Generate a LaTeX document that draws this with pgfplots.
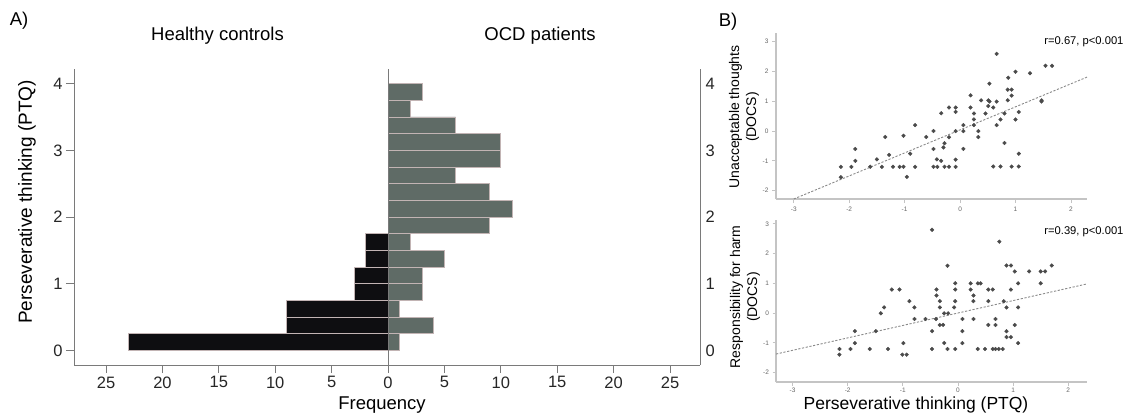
\documentclass[border=0pt]{standalone}
\usepackage{pgfplots}
\pgfplotsset{compat=1.18}
\usepackage{fontspec}
\setmainfont{Liberation Sans}
\definecolor{ocd}{HTML}{5F6B66}
\definecolor{hc}{HTML}{0E0E11}
\definecolor{edge}{HTML}{C2B4B4}
\definecolor{axgray}{HTML}{7A7A7A}
\definecolor{scax}{HTML}{C4C4C4}
\definecolor{dot}{HTML}{4A4A4A}
\definecolor{trend}{HTML}{8A8A8A}

\begin{document}
\begin{tikzpicture}[x=1pt,y=1pt]
\useasboundingbox (0,0) rectangle (1131,413);

% ---------------- Panel A ----------------
\begin{axis}[
  at={(74pt,48pt)}, anchor=south west, scale only axis,
  width=626pt, height=296pt,
  xmin=-27.84, xmax=27.66, ymin=-0.22, ymax=4.22,
  axis x line*=bottom, axis y line*=left,
  axis line style={axgray, line width=0.9pt},
  xtick={-25,-20,...,25},
  xticklabels={25,20,15,10,5,0,5,10,15,20,25},
  ytick={0,1,2,3,4},
  tick align=outside, major tick length=8pt,
  tick style={axgray, line width=0.8pt},
  ticklabel style={font=\fontsize{16.5}{18}\selectfont, text=black!85},
  /pgf/number format/assume math mode=true,
  xbar, bar shift=0pt, bar width=0.25,
  clip=false,
]
\addplot[fill=hc, draw=edge, line width=0.7pt] coordinates {
  (-23,0.125) (-9,0.375) (-9,0.625) (-3,0.875) (-3,1.125) (-2,1.375) (-2,1.625)};
\addplot[fill=ocd, draw=edge, line width=0.7pt] coordinates {
  (1,0.125) (4,0.375) (1,0.625) (3,0.875) (3,1.125) (5,1.375) (2,1.625)
  (9,1.875) (11,2.125) (9,2.375) (6,2.625) (10,2.875) (10,3.125) (6,3.375)
  (2,3.625) (3,3.875)};
\draw[axgray, line width=0.9pt] (axis cs:0,-0.22) -- (axis cs:0,4.22);
\end{axis}

% right-hand y axis of panel A
\begin{axis}[
  at={(74pt,48pt)}, anchor=south west, scale only axis,
  width=626pt, height=296pt,
  xmin=-27.84, xmax=27.66, ymin=-0.22, ymax=4.22,
  axis x line=none, axis y line*=right,
  axis line style={axgray, line width=0.9pt},
  ytick={0,1,2,3,4}, major tick length=0pt,
  yticklabel style={font=\fontsize{16.5}{18}\selectfont, text=black!85, xshift=2pt},
  /pgf/number format/assume math mode=true,
]
\addplot[draw=none] coordinates {(0,0)};
\end{axis}

\node[font=\fontsize{18.5}{20}\selectfont] at (19,392) {A)};
\node[font=\fontsize{18.5}{20}\selectfont] at (217.5,377) {Healthy controls};
\node[font=\fontsize{18.5}{20}\selectfont] at (540,377) {OCD patients};
\node[font=\fontsize{18.5}{20}\selectfont] at (382,8) {Frequency};
\node[font=\fontsize{19}{21}\selectfont, rotate=90] at (27,211) {Perseverative thinking (PTQ)};

% ---------------- Panel B top ----------------
\begin{axis}[
  at={(776pt,214pt)}, anchor=south west, scale only axis,
  width=311pt, height=166pt,
  xmin=-3.32, xmax=2.29, ymin=-2.28, ymax=3.29,
  axis x line*=bottom, axis y line*=left,
  axis line style={scax, line width=1.4pt},
  xtick={-3,...,2}, ytick={-2,...,3},
  tick align=outside, major tick length=4pt,
  tick style={scax, line width=0.8pt},
  ticklabel style={font=\fontsize{6.5}{7}\selectfont, text=black!60},
  /pgf/number format/assume math mode=true,
]
\addplot[trend, line width=0.9pt, dash pattern=on 2.2pt off 1.6pt] coordinates {(-3.0,-2.28) (2.29,1.81)};
\addplot[only marks, mark=*, mark size=1.85pt, color=dot] coordinates {
(-2.15,-1.2) (-2.15,-1.55) (-1.96,-1.2) (-1.89,-1.0) (-1.89,-0.6) (-1.62,-1.2)
(-1.5,-0.95) (-1.41,-1.2) (-1.35,-0.2) (-1.28,-0.8) (-1.21,-1.2) (-1.09,-1.2)
(-1.02,-1.2) (-1.02,-0.16) (-0.96,-1.54) (-0.9,-0.76) (-0.81,0.2) (-0.81,-1.2)
(-0.61,-0.2) (-0.48,0.0) (-0.48,-0.6) (-0.48,-1.2) (-0.41,-1.2) (-0.42,-0.95)
(-0.34,-1.0) (-0.34,0.6) (-0.3,-0.55) (-0.28,-0.41) (-0.28,-1.2) (-0.2,-1.2)
(-0.2,-0.21) (-0.2,0.79) (-0.08,0.79) (-0.08,0.64) (-0.08,0.0) (-0.08,-0.96)
(-0.08,-1.2) (0.06,0.2) (0.06,0.0) (0.06,-0.6) (0.19,1.2) (0.19,0.79)
(0.25,0.59) (0.25,0.39) (0.25,0.2) (0.33,0.0) (0.33,-0.2) (0.38,1.03)
(0.46,0.59) (0.51,1.03) (0.53,0.99) (0.51,0.84) (0.53,1.59) (0.6,0.79)
(0.66,0.99) (0.66,2.59) (0.66,0.2) (0.6,-1.19) (0.73,-1.19) (0.73,0.39)
(0.8,0.59) (0.8,-0.4) (0.86,1.03) (0.86,1.39) (0.93,1.39) (0.93,1.19)
(0.87,1.79) (0.93,-1.19) (1.0,1.99) (1.0,0.39) (1.06,0.64) (1.06,-0.76)
(1.06,-1.19) (1.26,1.94) (1.47,1.03) (1.47,0.99) (1.54,2.19) (1.66,2.19)};
\end{axis}

% ---------------- Panel B bottom ----------------
\begin{axis}[
  at={(776pt,31pt)}, anchor=south west, scale only axis,
  width=311pt, height=162pt,
  xmin=-3.3, xmax=2.34, ymin=-2.32, ymax=3.13,
  axis x line*=bottom, axis y line*=left,
  axis line style={scax, line width=1.4pt},
  xtick={-3,...,2}, ytick={-2,...,3},
  tick align=outside, major tick length=3.5pt,
  tick style={scax, line width=0.8pt},
  ticklabel style={font=\fontsize{6.5}{7}\selectfont, text=black!60},
  xticklabel style={yshift=1pt},
  /pgf/number format/assume math mode=true,
]
\addplot[trend, line width=0.9pt, dash pattern=on 2.2pt off 1.6pt] coordinates {(-3.3,-1.38) (2.34,0.98)};
\addplot[only marks, mark=*, mark size=1.85pt, color=dot] coordinates {
(-2.15,-1.21) (-2.15,-1.4) (-1.95,-1.21) (-1.87,-1.01) (-1.87,-0.61) (-1.6,-1.21)
(-1.49,-0.61) (-1.4,-0.01) (-1.34,0.19) (-1.27,-1.21) (-1.2,0.79) (-1.06,0.79)
(-0.99,-1.01) (-1.01,-1.4) (-0.93,-1.4) (-0.88,0.4) (-0.79,0.19) (-0.79,-0.2)
(-0.59,-0.2) (-0.47,2.8) (-0.47,-0.61) (-0.47,-1.21) (-0.4,-0.2) (-0.39,0.79)
(-0.39,0.59) (-0.33,0.4) (-0.33,0.19) (-0.33,-0.4) (-0.27,-0.4) (-0.25,-0.01)
(-0.25,-1.01) (-0.19,1.59) (-0.18,-0.01) (-0.19,-1.21) (-0.07,0.19) (-0.05,0.4)
(-0.05,0.79) (-0.05,1.0) (-0.05,-1.21) (0.08,-0.2) (0.08,-0.61) (0.08,-1.01)
(0.23,1.0) (0.23,0.79) (0.28,0.59) (0.28,0.4) (0.28,-0.2) (0.36,1.0)
(0.41,1.0) (0.36,-1.21) (0.49,-1.21) (0.55,0.79) (0.55,0.4) (0.55,-0.4)
(0.63,0.79) (0.63,-1.21) (0.68,-1.21) (0.68,-0.2) (0.68,-0.4) (0.75,2.4)
(0.74,-1.21) (0.81,-1.21) (0.83,0.4) (0.88,1.6) (0.96,1.6) (0.88,0.19)
(0.88,-0.61) (0.88,-0.81) (0.96,-0.81) (0.96,0.79) (1.03,1.4) (1.03,-0.4)
(1.09,1.0) (1.09,0.19) (1.09,-1.01) (1.29,1.4) (1.5,1.4) (1.58,1.4)
(1.5,1.0) (1.7,1.6)};
\end{axis}

\node[font=\fontsize{18.5}{20}\selectfont] at (728,391) {B)};
\node[font=\fontsize{11.2}{13}\selectfont, anchor=east] at (1127,371) {r=0.67, p<0.001};
\node[font=\fontsize{11.2}{13}\selectfont, anchor=east] at (1127,181) {r=0.39, p<0.001};
\node[font=\fontsize{14}{17}\selectfont, rotate=90, align=center] at (744,296) {Unacceptable thoughts\\(DOCS)};
\node[font=\fontsize{14}{17}\selectfont, rotate=90, align=center] at (745,116) {Responsibility for harm\\(DOCS)};
\node[font=\fontsize{17.5}{20}\selectfont] at (916,8) {Perseverative thinking (PTQ)};
\end{tikzpicture}
\end{document}
